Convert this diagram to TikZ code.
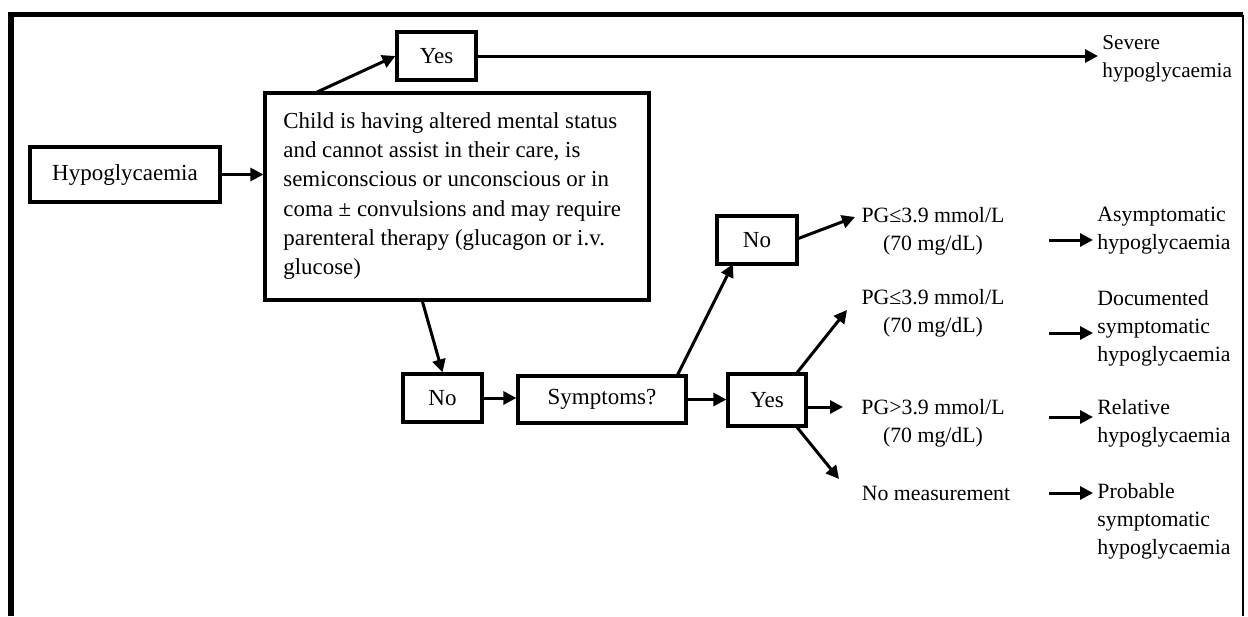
\documentclass[tikz,border=0pt]{standalone}
\usepackage{fontspec}
\setmainfont{Liberation Serif}
\usetikzlibrary{arrows.meta,calc}
\begin{document}
\begin{tikzpicture}[x=0.5pt,y=-0.5pt,
  every node/.style={font=\fontsize{11.5}{14}\selectfont},
  box/.style={draw,line width=1.6pt,inner sep=0pt,align=center},
  txt/.style={inner sep=0pt,align=center,font=\fontsize{10.9}{14}\selectfont},
  outtxt/.style={inner sep=0pt,align=left,anchor=west,font=\fontsize{10.9}{14}\selectfont},
  arr/.style={line width=1.5pt,-{Triangle[length=6.5pt,width=6.5pt]}},
  ln/.style={line width=1.5pt}]
\useasboundingbox (0,0) rectangle (1248,616);
% frame
\draw[line width=2.6pt] (11,616) -- (11,14.5) -- (1243,14.5);
\draw[line width=1pt] (1243,14.5) -- (1243,616);
% boxes
\node[box,minimum width=95pt,minimum height=27.5pt] (hypo) at (125,174.5) {Hypoglycaemia};
\node[box,minimum width=192pt,minimum height=103.5pt] (big) at (457,196.5) {};
\node[inner sep=0pt,align=left,anchor=west,font=\fontsize{11.45}{14.6}\selectfont] (bigtxt) at (283,196)
  {Child is having altered mental status\\and cannot assist in their care, is\\semiconscious or unconscious or in\\coma ± convulsions and may require\\parenteral therapy (glucagon or i.v.\\glucose)};
\node[box,minimum width=39.5pt,minimum height=24pt] (yesa) at (436.5,56) {Yes};
\node[box,minimum width=40pt,minimum height=24pt] (noa) at (757,240) {No};
\node[box,minimum width=39.5pt,minimum height=24pt] (nob) at (442.5,398) {No};
\node[box,minimum width=84pt,minimum height=23.5pt] (sym) at (602,399.5) {Symptoms?};
\node[box,minimum width=39pt,minimum height=26pt] (yesb) at (767,400) {Yes};
% PG texts
\node[txt] (pga) at (933,231) {PG≤3.9 mmol/L\\(70 mg/dL)};
\node[txt] (pgb) at (933,313.5) {PG≤3.9 mmol/L\\(70 mg/dL)};
\node[txt] (pgc) at (933,423.5) {PG>3.9 mmol/L\\(70 mg/dL)};
\node[txt] (nom) at (936,493) {No measurement};
% outcomes
\node[outtxt,font=\fontsize{10.6}{14}\selectfont] (sev) at (1102,59) {Severe\\hypoglycaemia};
\node[outtxt] (asy) at (1097,230.5) {Asymptomatic\\hypoglycaemia};
\node[outtxt] (doc) at (1097,328) {Documented\\symptomatic\\hypoglycaemia};
\node[outtxt] (rel) at (1097,423.5) {Relative\\hypoglycaemia};
\node[outtxt] (pro) at (1097,521) {Probable\\symptomatic\\hypoglycaemia};
% coordinates
\coordinate (b1) at (315,93);
\coordinate (b2) at (422,300);
\coordinate (s1) at (677,376);
\coordinate (n1) at (733,264);
\coordinate (na) at (797,239);
\coordinate (pa) at (855,217);
\coordinate (ya) at (796,374);
\coordinate (pb) at (847,310);
\coordinate (yb) at (806,407);
\coordinate (pc) at (843,407);
\coordinate (yc) at (796,426);
\coordinate (pd) at (839,479);
\coordinate (r1) at (1049,240);
\coordinate (r2) at (1049,333);
\coordinate (r3) at (1049,417);
\coordinate (r4) at (1049,493);
% connectors
\draw[arr] (hypo.east) -- (hypo.east -| big.west);
\draw[arr] (b1) -- (yesa.west);
\draw[arr,shorten >=2pt] (yesa.east) -- (yesa.east -| sev.west);
\draw[arr] (b2) -- (nob.north);
\draw[arr] (nob.east) -- (nob.east -| sym.west);
\draw[arr] (sym.east) -- (sym.east -| yesb.west);
\draw[arr] (s1) -- (n1);
\draw[arr] (na) -- (pa);
\draw[arr] (ya) -- (pb);
\draw[arr] (yb) -- (pc);
\draw[arr] (yc) -- (pd);
\draw[arr,shorten >=2pt] (r1) -- (r1 -| asy.west);
\draw[arr,shorten >=2pt] (r2) -- (r2 -| doc.west);
\draw[arr,shorten >=2pt] (r3) -- (r3 -| rel.west);
\draw[arr,shorten >=2pt] (r4) -- (r4 -| pro.west);
\end{tikzpicture}
\end{document}
